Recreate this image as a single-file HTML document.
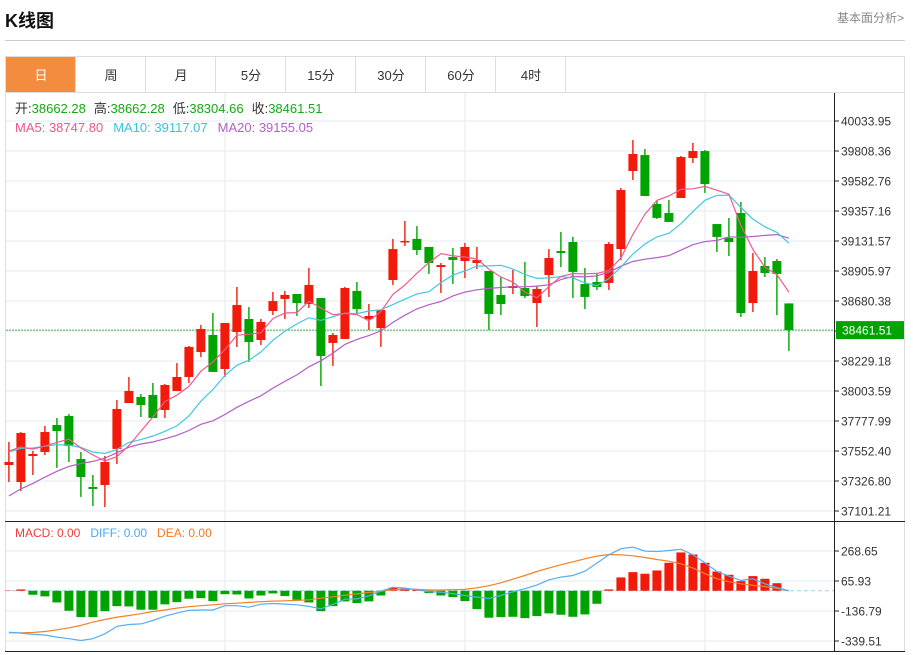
<!DOCTYPE html>
<html><head><meta charset="utf-8"><style>
body{margin:0;background:#fff;width:913px;height:655px;overflow:hidden;font-family:"Liberation Sans","Noto Sans CJK SC",sans-serif}
svg{position:absolute;left:0;top:0}
</style></head><body>
<svg id="c" width="913" height="655" xmlns="http://www.w3.org/2000/svg" font-family="Liberation Sans, Noto Sans CJK SC, sans-serif">
<text x="5" y="27" font-size="18" font-weight="bold" fill="#111">K线图</text>
<text x="904" y="22" font-size="12" fill="#888" text-anchor="end">基本面分析&gt;</text>
<line x1="5" y1="40.5" x2="905" y2="40.5" stroke="#ccc"/>
<rect x="5.5" y="56.5" width="899" height="595" fill="none" stroke="#ddd"/>
<line x1="5" y1="92.5" x2="905" y2="92.5" stroke="#ddd"/>
<g id="tabs"></g>
<g id="grid"></g>
<g id="marks"></g>
<g id="axis"></g>
<text x="15" y="113" font-size="13"><tspan fill="#333">开:</tspan><tspan fill="#14a814">38662.28</tspan><tspan fill="#333" dx="8">高:</tspan><tspan fill="#14a814">38662.28</tspan><tspan fill="#333" dx="8">低:</tspan><tspan fill="#14a814">38304.66</tspan><tspan fill="#333" dx="8">收:</tspan><tspan fill="#14a814">38461.51</tspan></text>
<text x="15" y="132" font-size="13"><tspan fill="#f0568a">MA5: 38747.80</tspan><tspan fill="#33c6de" dx="10">MA10: 39117.07</tspan><tspan fill="#b45ec8" dx="10">MA20: 39155.05</tspan></text>
<text x="15" y="537" font-size="12"><tspan fill="#f03c3c">MACD: 0.00</tspan><tspan fill="#4aa8f0" dx="10">DIFF: 0.00</tspan><tspan fill="#f07a22" dx="10">DEA: 0.00</tspan></text>
</svg>
<script>
const opens=[37447,37319,37515,37545,37748,37816,37492,37282,37297,37568,37913,37959,37974,37861,38004,38109,38297,38425,38169,38447,38545,38387,38605,38696,38733,38658,38703,38365,38395,38756,38545,38477,38838,39124,39147,39087,38936,39011,38981,38966,38906,38726,38778,38778,38665,38876,39056,39124,38808,38823,38816,39071,39658,39778,39410,39342,39455,39756,39808,39259,39154,39342,38665,38944,38981,38662.28];
const highs=[37620,37695,37553,37741,37801,37831,37545,37372,37515,37936,38109,37981,38064,38056,38214,38342,38500,38590,38515,38786,38635,38545,38748,38756,38733,38929,38703,38440,38786,38823,38658,38613,39147,39282,39244,39087,38966,39079,39117,39087,38906,38861,38914,38974,38793,39071,39199,39162,38929,38891,39124,39530,39891,39823,39432,39440,39771,39869,39816,39259,39305,39425,39041,39011,38996,38662.28];
const lows=[37319,37252,37372,37522,37425,37470,37207,37139,37131,37455,37913,37808,37801,37801,38004,38064,38259,38147,38109,38335,38222,38350,38575,38545,38568,38628,38041,38192,38395,38590,38462,38335,38801,39094,39026,38884,38741,38808,38853,38921,38462,38575,38733,38703,38485,38711,38936,38703,38620,38763,38763,38989,39590,39470,39297,39275,39455,39718,39493,39049,39019,38560,38598,38861,38575,38304.66];
const closes=[37470,37688,37530,37695,37703,37590,37357,37267,37470,37868,38004,37898,37801,38049,38109,38335,38470,38147,38515,38650,38372,38523,38680,38726,38665,38801,38267,38425,38778,38620,38568,38613,39071,39132,39064,38966,38951,38989,39087,38989,38583,38658,38793,38718,38771,39004,39041,38899,38711,38786,39109,39515,39786,39470,39305,39275,39763,39808,39560,39162,39124,38590,38906,38891,38884,38461.51];
const priorCloses=[36620,36700,36760,36820,36870,36910,36950,36990,37030,37180,37420,37500,37560,37590,37615,37540,37610,37580,37565];
const macdHist=[2,9,-27,-38,-79,-135,-178,-178,-138,-104,-106,-128,-128,-92,-77,-54,-50,-70,-23,-25,-52,-32,-18,-36,-61,-79,-138,-104,-72,-83,-72,-32,20,16,6,-16,-32,-43,-70,-124,-182,-178,-176,-185,-171,-153,-162,-176,-160,-88,9,90,126,115,137,189,259,245,189,130,108,65,99,81,51,0];
const diffVals=[-280,-286,-295,-299,-313,-324,-336,-324,-291,-241,-228,-224,-201,-172,-151,-133,-130,-130,-101,-101,-111,-91,-86,-90,-95,-106,-122,-93,-57,-55,-34,-3,24,18,7,-7,-9,-20,-32,-43,-52,-32,-7,14,38,74,92,103,132,187,243,284,295,268,265,272,281,243,189,130,99,70,81,47,22,0];
const deaVals=[-284,-284,-282,-275,-264,-250,-234,-212,-194,-178,-167,-155,-140,-130,-117,-108,-101,-95,-88,-84,-79,-74,-70,-68,-65,-61,-50,-41,-30,-21,-12,-3,8,12,10,5,5,7,9,20,34,54,78,103,130,153,176,196,216,234,245,243,236,225,211,200,182,153,115,81,61,47,36,29,16,0];
const priceTicks=["40033.95","39808.36","39582.76","39357.16","39131.57","38905.97","38680.38","38454.78","38229.18","38003.59","37777.99","37552.40","37326.80","37101.21"];
const macdTicks=["268.65","65.93","-136.79","-339.51"];
const tabLabels=["日","周","月","5分","15分","30分","60分","4时"];

const NS="http://www.w3.org/2000/svg";
function mk(tag,attrs,parent){const e=document.createElementNS(NS,tag);for(const k in attrs)e.setAttribute(k,attrs[k]);parent.appendChild(e);return e;}
const P_TOP=40033.95,P_BOT=37101.21,Y_TOP=121,Y_BOT=511;
function py(p){return Y_TOP+(P_TOP-p)*(Y_BOT-Y_TOP)/(P_TOP-P_BOT);}
function my(v){return 581-(v-65.93)*30/202.72;}
function xi(i){return 8.9+12*i;}
const G=document.getElementById('grid'),M=document.getElementById('marks'),A=document.getElementById('axis'),T=document.getElementById('tabs');

tabLabels.forEach((t,i)=>{
  const x=6+70*i;
  const r=mk('rect',{x:x,y:57,width:69,height:35,fill:i===0?'#f38c3f':'#fff'},T);
  
  
  mk('line',{x1:x+69.5,y1:57,x2:x+69.5,y2:92,stroke:'#ddd'},T);
  const tx=mk('text',{x:x+35,y:80,'font-size':13,'text-anchor':'middle',fill:i===0?'#fff':'#333'},T);
  tx.textContent=t;
  
  
});

// grid
priceTicks.forEach((t,i)=>{const y=py(parseFloat(t));mk('line',{x1:6,y1:y,x2:834,y2:y,stroke:'#e3ebf2'},G);});
macdTicks.forEach(t=>{const y=my(parseFloat(t));mk('line',{x1:6,y1:y,x2:834,y2:y,stroke:'#e3ebf2'},G);});
[225,465,705].forEach(x=>mk('line',{x1:x,y1:93,x2:x,y2:651,stroke:'#e3ebf2'},G));
mk('line',{x1:5,y1:521.5,x2:905,y2:521.5,stroke:'#222'},G);
mk('line',{x1:5,y1:651.5,x2:905,y2:651.5,stroke:'#222'},G);
mk('line',{x1:834.5,y1:93,x2:834.5,y2:652,stroke:'#222'},G);

// current price line
const lastC=closes[closes.length-1];
mk('line',{x1:6,y1:py(lastC),x2:834,y2:py(lastC),stroke:'#4cb84c','stroke-dasharray':'2,1'},M);
// zero line MACD
mk('line',{x1:6,y1:my(0),x2:834,y2:my(0),stroke:'#9ad4ee','stroke-dasharray':'4,3'},M);

// candles
closes.forEach((c,i)=>{
  const o=opens[i],up=c>=o,col=up?'#f21a0a':'#00a400',x=xi(i);
  const w=mk('line',{x1:x,y1:py(highs[i]),x2:x,y2:py(lows[i]),stroke:col,'stroke-width':1.4},M);
  
  
  const top=py(Math.max(o,c)),h=Math.max(1.5,Math.abs(py(o)-py(c)));
  const b=mk('rect',{x:x-4.5,y:top,width:9,height:h,fill:col},M);
  
  
});

// MAs
const all=priorCloses.concat(closes);
function maLine(n,col,name){
  const pts=closes.map((c,i)=>{const j=i+priorCloses.length;let s=0;for(let k=j-n+1;k<=j;k++)s+=all[k];return xi(i).toFixed(1)+','+py(s/n).toFixed(1);});
  const p=mk('polyline',{points:pts.join(' '),fill:'none',stroke:col,'stroke-width':1.2},M);
  
  
}
maLine(20,'#b45ec8','ma20-line');
maLine(10,'#40c8e0','ma10-line');
maLine(5,'#ee5b8c','ma5-line');

// MACD
macdHist.forEach((v,i)=>{
  if(v===0)return;
  const y0=my(0),y1=my(v);
  const r=mk('rect',{x:xi(i)-4.5,y:Math.min(y0,y1),width:9,height:Math.abs(y1-y0),fill:v>0?'#f21a0a':'#00a400'},M);
  
  
});
function ln(arr,col,name){
  const p=mk('polyline',{points:arr.map((v,i)=>xi(i).toFixed(1)+','+my(v).toFixed(1)).join(' '),fill:'none',stroke:col,'stroke-width':1.2},M);
  
  
}
ln(deaVals,'#f58024','dea-line');
ln(diffVals,'#58adf2','diff-line');

// axis labels
priceTicks.forEach(t=>{const y=py(parseFloat(t));mk('line',{x1:834,y1:y,x2:839,y2:y,stroke:'#222'},A);
  const tx=mk('text',{x:841,y:y+4.5,'font-size':12,fill:'#333'},A);tx.textContent=t;
  
  });
macdTicks.forEach(t=>{const y=my(parseFloat(t));mk('line',{x1:834,y1:y,x2:839,y2:y,stroke:'#222'},A);
  const tx=mk('text',{x:841,y:y+4.5,'font-size':12,fill:'#333'},A);tx.textContent=t;
  
  });
const cy=py(lastC);
const box=mk('rect',{x:836,y:cy-9,width:68,height:18,fill:'#00a400'},A);


const ct=mk('text',{x:842,y:cy+4.5,'font-size':12,fill:'#fff'},A);ct.textContent=lastC.toFixed(2);


</script>
</body></html>
